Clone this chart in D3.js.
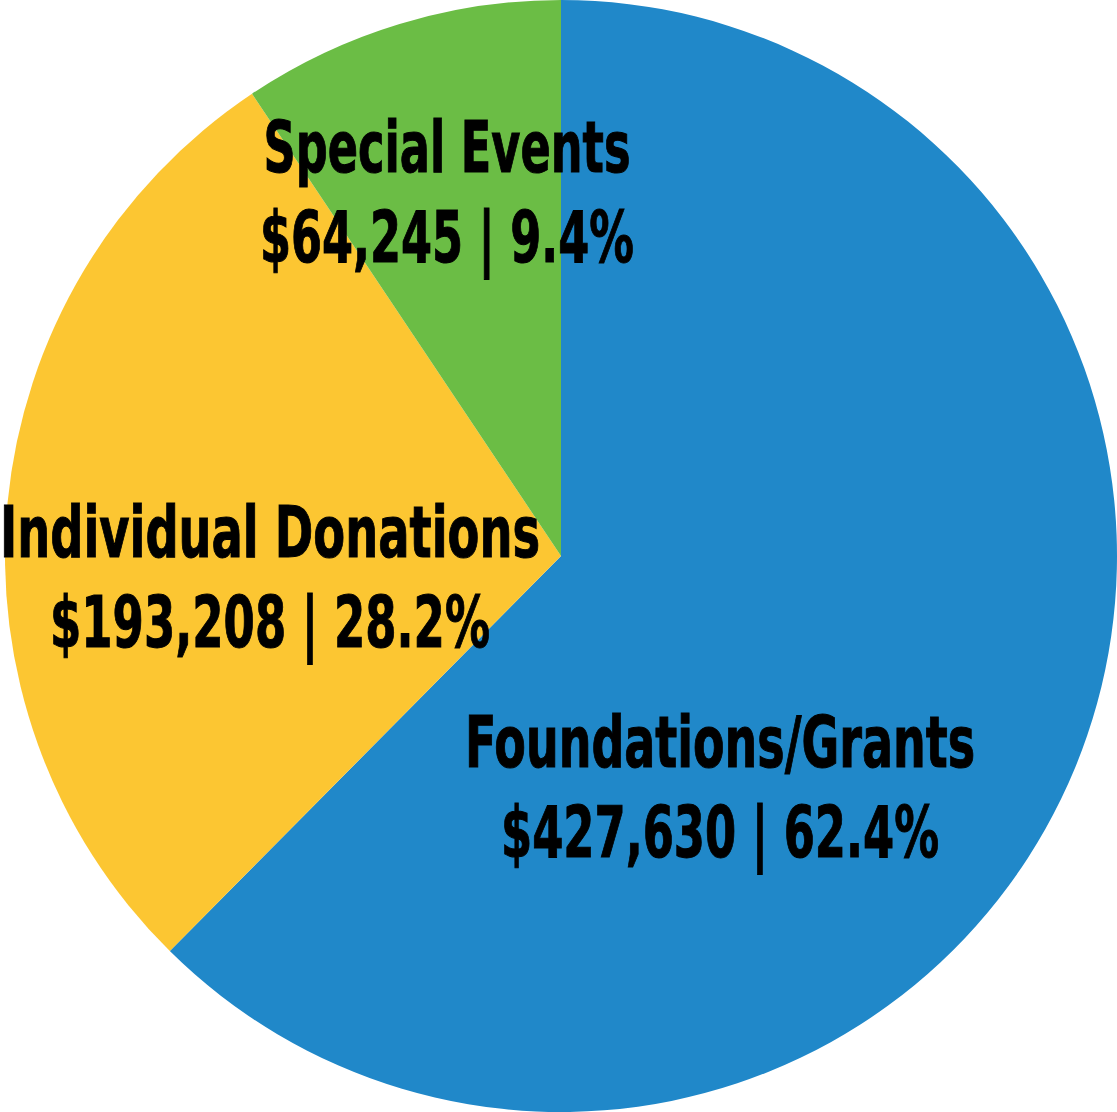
<!DOCTYPE html>
<html>
<head>
    <meta charset="utf-8">
    <script src="https://d3js.org/d3.v7.min.js"></script>
    <style>
        body { margin: 0; background: #fff; }
        text { font-family: "Liberation Sans Narrow", "DejaVu Sans Condensed", "DejaVu Sans", sans-serif; font-weight: bold; fill: #000; stroke: #000; stroke-width: 1px; }
    </style>
</head>
<body>
    <script>
        var categories = ["Foundations/Grants", "Individual Donations", "Special Events"];
        var amounts = [427630, 193208, 64245];
        var percents = ["62.4%", "28.2%", "9.4%"];
        var colors = ["#2088c9", "#fcc632", "#6bbd45"];

        var width = 1117, height = 1112;
        var cx = 561, cy = 556, radius = 556;

        // hand placed label anchors (centre x, first baseline) and line widths
        var labelLayout = {
            "Foundations/Grants": {x: 720, y: 767, w1: 510, w2: 438},
            "Individual Donations": {x: 270, y: 557, w1: 540, w2: 440},
            "Special Events": {x: 447, y: 172, w1: 367, w2: 374}
        };
        var lineGap = 90;

        var svg = d3.select("body").append("svg")
            .attr("width", width)
            .attr("height", height);

        var rows = categories.map((c, i) => ({name: c, value: amounts[i], pct: percents[i], color: colors[i]}));

        var pie = d3.pie()
            .sort(null)
            .value(d => d.value);

        var arc = d3.arc()
            .innerRadius(0)
            .outerRadius(radius);

        var g = svg.append("g")
            .attr("transform", "translate(" + cx + "," + cy + ")");

        g.selectAll("path")
            .data(pie(rows))
            .enter().append("path")
            .attr("d", arc)
            .style("fill", d => d.data.color);

        var fmt = d3.format("$,");

        var labels = svg.append("g")
            .selectAll("g")
            .data(rows)
            .enter().append("g");

        labels.append("text")
            .attr("x", d => labelLayout[d.name].x)
            .attr("y", d => labelLayout[d.name].y)
            .attr("text-anchor", "middle")
            .attr("font-size", 72)
            .attr("textLength", d => labelLayout[d.name].w1)
            .attr("lengthAdjust", "spacingAndGlyphs")
            .text(d => d.name);

        labels.append("text")
            .attr("x", d => labelLayout[d.name].x)
            .attr("y", d => labelLayout[d.name].y + lineGap)
            .attr("text-anchor", "middle")
            .attr("font-size", 72)
            .attr("textLength", d => labelLayout[d.name].w2)
            .attr("lengthAdjust", "spacingAndGlyphs")
            .text(d => fmt(d.value) + " | " + d.pct);
    </script>
</body>
</html>
